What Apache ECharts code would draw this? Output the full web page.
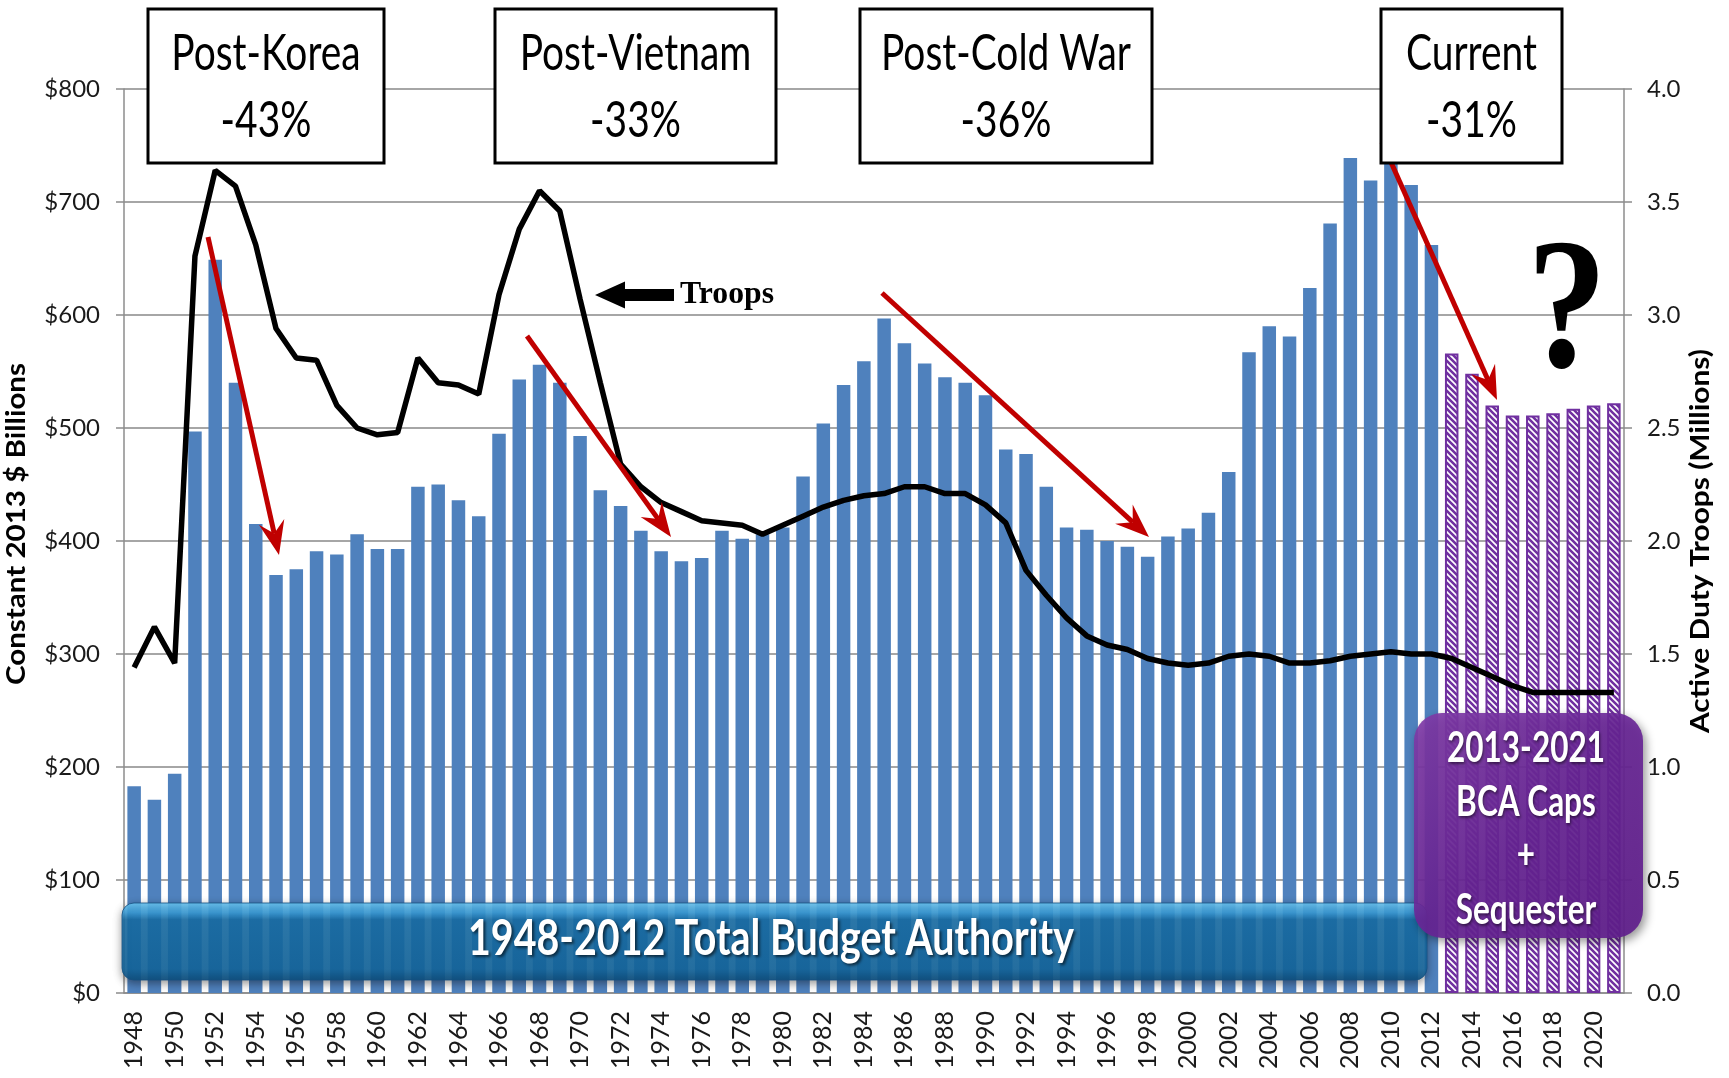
<!DOCTYPE html>
<html>
<head>
<meta charset="utf-8">
<script src="https://cdn.jsdelivr.net/npm/echarts@6/dist/echarts.min.js"></script>
<style>
html,body{margin:0;padding:0;background:#fff;overflow:hidden}
#chart{width:1729px;height:1078px}
</style>
</head>
<body>
<div id="chart"></div>
<script>
// ---------------- DATA ----------------
const years = ['1948','1949','1950','1951','1952','1953','1954','1955','1956','1957','1958','1959',
  '1960','1961','1962','1963','1964','1965','1966','1967','1968','1969','1970','1971','1972','1973',
  '1974','1975','1976','1977','1978','1979','1980','1981','1982','1983','1984','1985','1986','1987',
  '1988','1989','1990','1991','1992','1993','1994','1995','1996','1997','1998','1999','2000','2001',
  '2002','2003','2004','2005','2006','2007','2008','2009','2010','2011','2012','2013','2014','2015',
  '2016','2017','2018','2019','2020','2021'];

// Total budget authority, constant 2013 $ billions, 1948-2012
const budget = [183,171,194,497,649,540,415,370,375,391,388,406,
  393,393,448,450,436,422,495,543,556,540,493,445,431,409,
  391,382,385,409,402,406,412,457,504,538,559,597,575,557,
  545,540,529,481,477,448,412,410,400,395,386,404,411,425,
  461,567,590,581,624,681,739,719,745,715,662];

// 2013-2021 BCA caps + sequester
const bcaCaps = [566,548,520,511,511,513,517,520,522];

// Active duty troops (millions), 1948-2021
const troops = [1.44,1.62,1.46,3.26,3.64,3.57,3.31,2.94,2.81,2.80,2.60,2.50,
  2.47,2.48,2.81,2.70,2.69,2.65,3.09,3.38,3.55,3.46,3.07,2.70,2.34,2.24,
  2.17,2.13,2.09,2.08,2.07,2.03,2.07,2.11,2.15,2.18,2.20,2.21,2.24,2.24,
  2.21,2.21,2.16,2.08,1.87,1.76,1.66,1.58,1.54,1.52,1.48,1.46,1.45,1.46,
  1.49,1.50,1.49,1.46,1.46,1.47,1.49,1.50,1.51,1.50,1.50,1.48,1.44,1.40,
  1.36,1.33,1.33,1.33,1.33,1.33];

const leftTickLabels = ['$0','$100','$200','$300','$400','$500','$600','$700','$800'];
const rightTickLabels = ['0.0','0.5','1.0','1.5','2.0','2.5','3.0','3.5','4.0'];

const leftAxisName = 'Constant 2013 $ Billions';
const rightAxisName = 'Active Duty Troops (Millions)';
const periodTitles = ['Post-Korea','Post-Vietnam','Post-Cold War','Current'];
const periodDrops = ['-43%','-33%','-36%','-31%'];
const bannerText = '1948-2012 Total Budget Authority';
const bcaLines = ['2013-2021','BCA Caps','+','Sequester'];
const troopsLabel = 'Troops';

// ---------------- HELPERS ----------------
const blueData = years.map((y, i) => i < budget.length ? budget[i] : '-');
const capData = years.map((y, i) => i >= budget.length ? bcaCaps[i - budget.length] : '-');

function hatchCanvas() {
  const s = 6;
  const c = document.createElement('canvas');
  c.width = s; c.height = s;
  const g = c.getContext('2d');
  g.fillStyle = '#ffffff'; g.fillRect(0, 0, s, s);
  g.strokeStyle = '#7030A0'; g.lineWidth = 2.6;
  g.beginPath();
  g.moveTo(-1, -1); g.lineTo(s + 1, s + 1);
  g.moveTo(-1, s - 1); g.lineTo(1, s + 1);
  g.moveTo(s - 1, -1); g.lineTo(s + 1, 1);
  g.stroke();
  return c;
}

const mctx = document.createElement('canvas').getContext('2d');
function fit(text, font, target) {
  mctx.font = font;
  return target / mctx.measureText(text).width;
}

function redArrow(x1, y1, x2, y2) {
  const dx = x2 - x1, dy = y2 - y1, L = Math.hypot(dx, dy);
  const ux = dx / L, uy = dy / L, px = -uy, py = ux;
  const hl = 34, hw = 13, notch = 22;
  const bx = x2 - ux * hl, by = y2 - uy * hl;
  const nx = x2 - ux * notch, ny = y2 - uy * notch;
  return [
    {type: 'line', z: 50, shape: {x1: x1, y1: y1, x2: nx, y2: ny},
     style: {stroke: '#C00000', lineWidth: 5}},
    {type: 'polygon', z: 50, shape: {points: [[x2, y2], [bx + px * hw, by + py * hw], [nx, ny], [bx - px * hw, by - py * hw]]},
     style: {fill: '#C00000'}}
  ];
}

// ---------------- ANNOTATIONS ----------------
const boxGeom = [
  {x: 148, w: 236},
  {x: 495, w: 281},
  {x: 860, w: 292},
  {x: 1381, w: 181}
];
const boxFont = '50px Lato';
const boxScale = fit('Post-Cold War', boxFont, 250);

const graphics = [];

boxGeom.forEach((b, i) => {
  const cx = b.x + b.w / 2;
  graphics.push({type: 'rect', z: 60, shape: {x: b.x, y: 9, width: b.w, height: 154},
    style: {fill: '#fff', stroke: '#000', lineWidth: 3}});
  graphics.push({type: 'text', z: 61, x: cx, y: 54, scaleX: boxScale,
    style: {text: periodTitles[i], font: boxFont, fill: '#000', textAlign: 'center', textVerticalAlign: 'middle'}});
  graphics.push({type: 'text', z: 61, x: cx, y: 121, scaleX: boxScale,
    style: {text: periodDrops[i], font: boxFont, fill: '#000', textAlign: 'center', textVerticalAlign: 'middle'}});
});

graphics.push(...redArrow(208, 237, 279, 555));
graphics.push(...redArrow(527, 336, 671, 537));
graphics.push(...redArrow(882, 293, 1149, 537));
graphics.push(...redArrow(1382, 142, 1497, 400));

// Troops pointer
graphics.push({type: 'polygon', z: 55, shape: {points: [[595, 295], [625, 281.5], [625, 289], [674, 289], [674, 301], [625, 301], [625, 308.5]]},
  style: {fill: '#000'}});
const troopsFont = 'bold 32px "Liberation Serif"';
graphics.push({type: 'text', z: 55, x: 680, y: 295, scaleX: fit(troopsLabel, troopsFont, 94),
  style: {text: troopsLabel, font: troopsFont, fill: '#000', textAlign: 'left', textVerticalAlign: 'middle'}});

// Question mark
graphics.push({type: 'text', z: 55, x: 1567, y: 318, scaleX: 0.86,
  style: {text: '?', font: 'bold 186px "Liberation Serif"', fill: '#000', textAlign: 'center', textVerticalAlign: 'middle'}});

// Bottom banner
graphics.push({type: 'rect', z: 40, shape: {x: 122, y: 903, width: 1305, height: 77, r: 12},
  style: {
    fill: {type: 'linear', x: 0, y: 0, x2: 0, y2: 1, colorStops: [
      {offset: 0, color: 'rgba(110,200,245,0.92)'},
      {offset: 0.13, color: 'rgba(60,160,220,0.88)'},
      {offset: 0.22, color: 'rgba(24,112,170,0.86)'},
      {offset: 0.85, color: 'rgba(20,104,160,0.88)'},
      {offset: 1, color: 'rgba(14,80,128,0.92)'}]},
    stroke: 'rgba(20,80,130,0.8)', lineWidth: 1,
    shadowBlur: 8, shadowColor: 'rgba(0,0,0,0.45)', shadowOffsetY: 3
  }});
const bannerFont = 'bold 50px Lato';
graphics.push({type: 'text', z: 41, x: 771, y: 939, scaleX: fit(bannerText, bannerFont, 606),
  style: {text: bannerText, font: bannerFont, fill: '#fff', textAlign: 'center', textVerticalAlign: 'middle',
    textShadowColor: 'rgba(0,0,0,0.6)', textShadowBlur: 3, textShadowOffsetX: 2, textShadowOffsetY: 2}});

// Purple BCA box
graphics.push({type: 'rect', z: 42, shape: {x: 1414, y: 713, width: 229, height: 225, r: 28},
  style: {
    fill: {type: 'linear', x: 0, y: 0, x2: 1, y2: 1, colorStops: [
      {offset: 0, color: 'rgba(128,60,168,0.92)'},
      {offset: 0.5, color: 'rgba(104,36,150,0.9)'},
      {offset: 1, color: 'rgba(96,30,140,0.92)'}]},
    shadowBlur: 10, shadowColor: 'rgba(0,0,0,0.45)', shadowOffsetX: 3, shadowOffsetY: 4
  }});
const bcaFont = 'bold 42px Lato';
const bcaScale = fit(bcaLines[0], bcaFont, 158);
const bcaY = [748, 802, 855, 910];
bcaLines.forEach((t, i) => {
  graphics.push({type: 'text', z: 43, x: 1526, y: bcaY[i], scaleX: bcaScale,
    style: {text: t, font: bcaFont, fill: '#fff', textAlign: 'center', textVerticalAlign: 'middle',
      textShadowColor: 'rgba(0,0,0,0.5)', textShadowBlur: 3, textShadowOffsetX: 1, textShadowOffsetY: 2}});
});

// Axis names
const nameFont = 'bold 26px Lato';
graphics.push({type: 'text', z: 30, x: 17, y: 524, rotation: Math.PI / 2, scaleX: fit(leftAxisName, nameFont, 322),
  style: {text: leftAxisName, font: nameFont, fill: '#000', textAlign: 'center', textVerticalAlign: 'middle'}});
graphics.push({type: 'text', z: 30, x: 1701, y: 541, rotation: Math.PI / 2, scaleX: fit(rightAxisName, nameFont, 384),
  style: {text: rightAxisName, font: nameFont, fill: '#000', textAlign: 'center', textVerticalAlign: 'middle'}});

// ---------------- CHART ----------------
const axisGrey = '#8c8c8c';
const chart = echarts.init(document.getElementById('chart'), null, {renderer: 'canvas'});
chart.setOption({
  animation: false,
  backgroundColor: '#ffffff',
  grid: {left: 124, right: 105, top: 89, bottom: 85, containLabel: false},
  xAxis: {
    type: 'category', data: years,
    axisLine: {lineStyle: {color: axisGrey, width: 1.5}},
    axisTick: {interval: 0, length: 8, lineStyle: {color: axisGrey, width: 1.5}},
    axisLabel: {interval: 1, rotate: 90, margin: 18, fontFamily: 'Lato', fontSize: 25, color: '#1a1a1a'}
  },
  yAxis: [
    {type: 'value', min: 0, max: 800, interval: 100, position: 'left',
     axisLine: {show: true, lineStyle: {color: axisGrey, width: 1.5}},
     axisTick: {show: true, length: 8, lineStyle: {color: axisGrey, width: 1.5}},
     axisLabel: {margin: 24, fontFamily: 'Lato', fontSize: 24, color: '#1a1a1a',
       formatter: v => leftTickLabels[Math.round(v / 100)]},
     splitLine: {show: true, lineStyle: {color: '#a6a6a6', width: 2}}},
    {type: 'value', min: 0, max: 4, interval: 0.5, position: 'right',
     axisLine: {show: true, lineStyle: {color: axisGrey, width: 1.5}},
     axisTick: {show: true, length: 8, lineStyle: {color: axisGrey, width: 1.5}},
     axisLabel: {margin: 23, fontFamily: 'Lato', fontSize: 24, color: '#1a1a1a',
       formatter: v => rightTickLabels[Math.round(v / 0.5)]},
     splitLine: {show: false}}
  ],
  series: [
    {type: 'bar', name: 'Total Budget Authority', data: blueData, barWidth: 13.5, barGap: '-100%',
     itemStyle: {color: '#4F81BD'}, z: 2},
    {type: 'bar', name: 'BCA Caps + Sequester', data: capData, barWidth: 13.5, barGap: '-100%',
     itemStyle: {color: {image: hatchCanvas(), repeat: 'repeat'}, borderColor: '#7030A0', borderWidth: 2}, z: 2},
    {type: 'line', name: 'Troops', yAxisIndex: 1, data: troops, symbol: 'none', smooth: false,
     lineStyle: {color: '#000', width: 5.5}, z: 5}
  ],
  graphic: {elements: graphics}
});
</script>
</body>
</html>
